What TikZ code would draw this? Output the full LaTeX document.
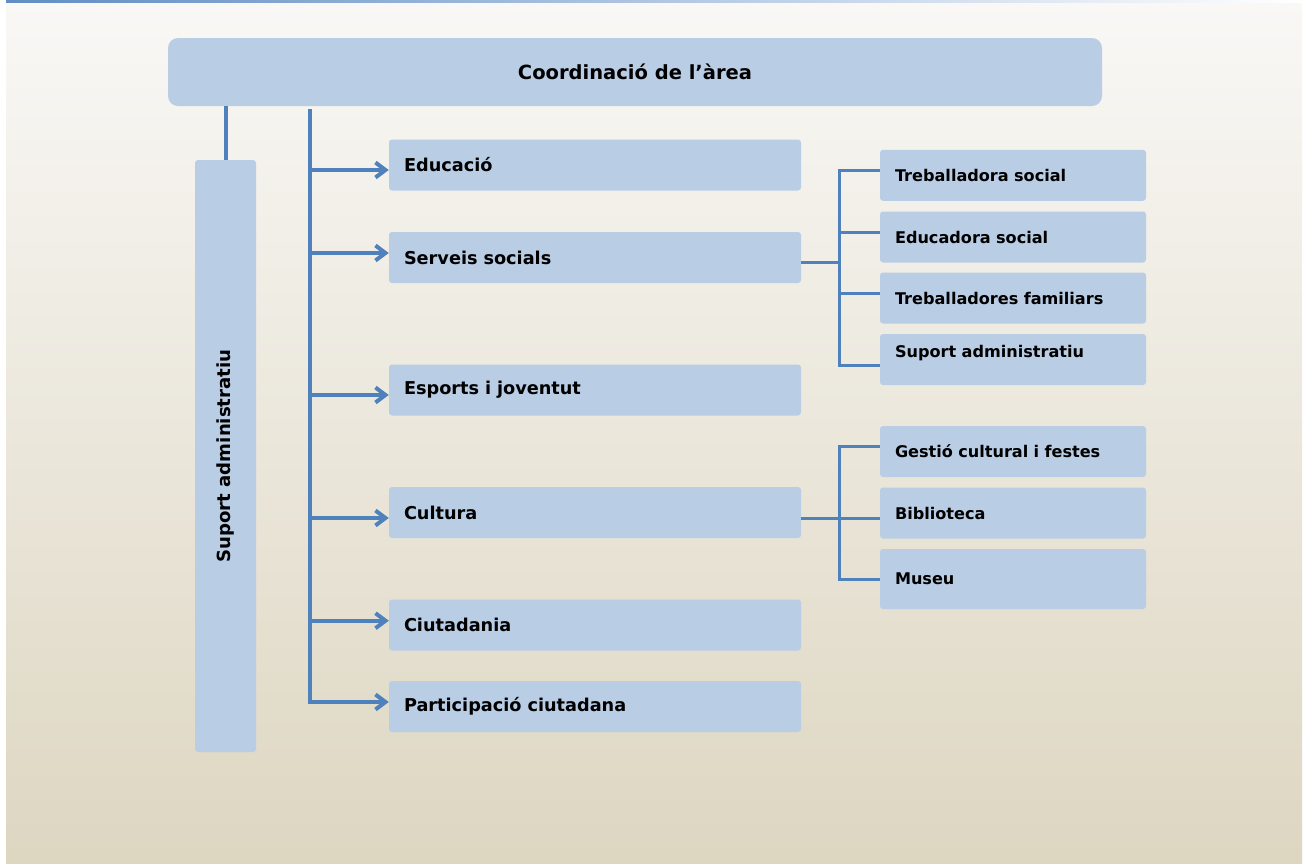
\documentclass[tikz,border=0pt]{standalone}
\usepackage{fontspec}
\setmainfont{DejaVu Sans}
\usetikzlibrary{arrows.meta}
\definecolor{boxblue}{HTML}{B9CDE5}
\definecolor{lineblue}{HTML}{4F81BD}
\definecolor{bgtop}{HTML}{F9F8F6}
\definecolor{bgbot}{HTML}{DDD6C1}
\tikzset{
  topbox/.style={fill=boxblue, rounded corners=10pt, minimum width=934pt, minimum height=68pt, inner sep=0pt, font=\fontsize{19.5}{23}\selectfont\bfseries},
  midbox/.style={fill=boxblue, rounded corners=3pt, text width=382pt, inner xsep=15pt, inner ysep=0pt, minimum height=51pt, align=left, font=\fontsize{17.7}{21}\selectfont\bfseries},
  subbox/.style={fill=boxblue, rounded corners=3pt, text width=236pt, inner xsep=15pt, inner ysep=0pt, minimum height=51pt, align=left, font=\fontsize{16.1}{19}\selectfont\bfseries},
  sidebox/.style={fill=boxblue, rounded corners=3pt, rotate=90, minimum width=592pt, minimum height=61pt, inner sep=0pt, font=\fontsize{18.1}{21}\selectfont\bfseries},
  trunk/.style={draw=lineblue, line width=4pt},
  arr/.style={draw=lineblue, line width=4pt, line join=miter, -{Straight Barb[length=10pt,width=15pt]}},
  brk/.style={draw=lineblue, line width=3pt},
}
\begin{document}
\begin{tikzpicture}[x=1pt,y=-1pt]
\useasboundingbox (0,0) rectangle (1312,865);
\shade[top color=bgtop, bottom color=bgbot] (6,0) rectangle (1302,863);
\shade[left color=lineblue!90, right color=white] (6,0) rectangle (1302,2);

\node[topbox] (coord) at (635,72) {Coordinació de l’àrea};
\node[sidebox] (supl) at (225.5,456) {Suport administratiu};

\node[midbox] (educ) at (595,165) {Educació};
\node[midbox] (serv) at (595,257.5) {Serveis socials};
\node[midbox] (esp) at (595,390) {Esports i joventut};
\node[midbox] (cult) at (595,512.5) {Cultura};
\node[midbox] (ciut) at (595,625) {Ciutadania};
\node[midbox] (part) at (595,706.5) {Participació ciutadana};

\node[subbox] (tsoc) at (1013,175.3) {Treballadora social};
\node[subbox] (esoc) at (1013,237) {Educadora social};
\node[subbox] (tfam) at (1013,298) {Treballadores familiars};
\node[subbox] (sadm) at (1013,359.5) {Suport administratiu\\[-2pt]\mbox{}};
\node[subbox] (gest) at (1013,451.5) {Gestió cultural i festes};
\node[subbox] (bibl) at (1013,513) {Biblioteca};
\node[subbox, minimum height=60pt] (mus) at (1013,579) {Museu};

% connector to side box
\draw[trunk] (coord.south -| supl.east) -- (supl.east);

% trunk
\coordinate (ttop) at (310,109);
\coordinate (tbot) at (310,702);
\draw[arr] (ttop) -- (tbot) -- ([yshift=4.5pt]part.west);
\draw[arr] ([yshift=-5pt]educ.west -| ttop) -- ([yshift=-5pt]educ.west);
\draw[arr] ([yshift=4.5pt]serv.west -| ttop) -- ([yshift=4.5pt]serv.west);
\draw[arr] ([yshift=-5pt]esp.west -| ttop) -- ([yshift=-5pt]esp.west);
\draw[arr] ([yshift=-5.5pt]cult.west -| ttop) -- ([yshift=-5.5pt]cult.west);
\draw[arr] ([yshift=4.3pt]ciut.west -| ttop) -- ([yshift=4.3pt]ciut.west);

% bracket 1
\coordinate (b1) at (839,262);
\draw[brk] ([yshift=-4.5pt]serv.east) -- (b1);
\draw[brk] ([yshift=5.3pt]tsoc.west) -| ([yshift=-5.5pt]sadm.west -| b1) -- ([yshift=-5.5pt]sadm.west);
\draw[brk] ([yshift=5pt]esoc.west) -- ([yshift=5pt]esoc.west -| b1);
\draw[brk] ([yshift=5pt]tfam.west) -- ([yshift=5pt]tfam.west -| b1);

% bracket 2
\coordinate (b2) at (839,518);
\draw[brk] ([yshift=-5.5pt]cult.east) -- (b2);
\draw[brk] ([yshift=5.5pt]gest.west) -| (mus.west -| b2) -- (mus.west);
\draw[brk] ([yshift=-5pt]bibl.west) -- ([yshift=-5pt]bibl.west -| b2);
\end{tikzpicture}
\end{document}
